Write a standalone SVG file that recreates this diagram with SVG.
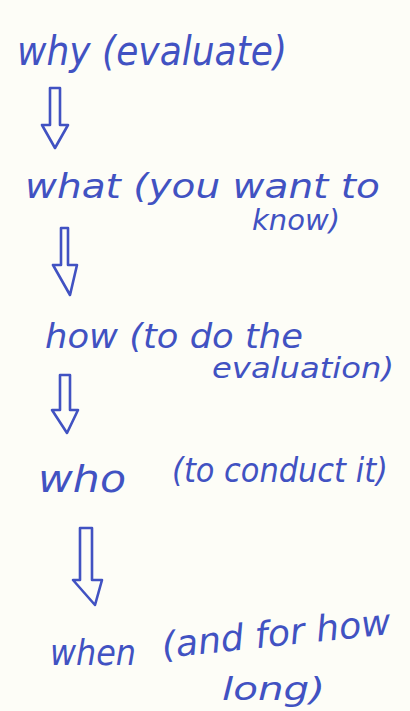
<svg xmlns="http://www.w3.org/2000/svg" width="410" height="711" viewBox="0 0 410 711">
<style>
.t{font-family:"DejaVu Sans","Liberation Sans",sans-serif;fill:#4152c2;font-style:italic}
.a{fill:none;stroke:#4152c2;stroke-width:2.6;stroke-linejoin:round;stroke-linecap:round}
</style>
<rect width="410" height="711" fill="#fdfdf7"/>
<g id="why"><text class="t" x="17" y="65" font-size="40" textLength="270" lengthAdjust="spacingAndGlyphs">why (evaluate)</text></g>
<g id="what"><text class="t" x="25" y="198" font-size="34" textLength="355" lengthAdjust="spacingAndGlyphs">what (you want to</text>
<text class="t" x="252" y="230" font-size="28" textLength="88" lengthAdjust="spacingAndGlyphs">know)</text></g>
<g id="how"><text class="t" x="45" y="348" font-size="34" textLength="258" lengthAdjust="spacingAndGlyphs">how (to do the</text>
<text class="t" x="212" y="378" font-size="28" textLength="182" lengthAdjust="spacingAndGlyphs">evaluation)</text></g>
<g id="who"><text class="t" x="38" y="492" font-size="38" textLength="88" lengthAdjust="spacingAndGlyphs">who</text>
<text class="t" x="172" y="482" font-size="33" textLength="216" lengthAdjust="spacingAndGlyphs">(to conduct it)</text></g>
<g id="when"><text class="t" x="50" y="665" font-size="36" textLength="86" lengthAdjust="spacingAndGlyphs">when</text>
<text class="t" x="163" y="658" font-size="36" textLength="230" lengthAdjust="spacingAndGlyphs" transform="rotate(-6 163 658)">(and for how</text>
<text class="t" x="222" y="700" font-size="32" textLength="103" lengthAdjust="spacingAndGlyphs">long)</text></g>
<g id="connectors">
<path class="a" d="M50,88 L60,88 L60,125 L68,125 L55,148 L42,125 L50,125 Z"/>
<path class="a" d="M61,228 L68,228 L68,265 L77,265 L70,295 L53,265 L61,265 Z"/>
<path class="a" d="M60,375 L70,375 L70,410 L78,410 L67,433 L52,410 L60,410 Z"/>
<path class="a" d="M80,528 L92,528 L92,580 L102,580 L95,605 L73,580 L80,580 Z"/>
</g>
</svg>
